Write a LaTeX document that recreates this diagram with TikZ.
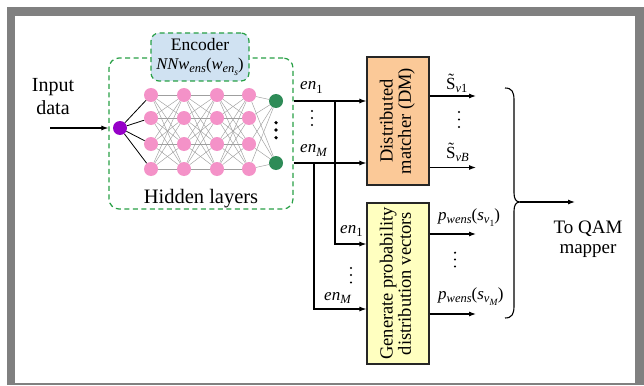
\documentclass[tikz,border=0pt]{standalone}
\usepackage{graphicx}
\usepackage{fontspec}
\setmainfont{Liberation Serif}
\usetikzlibrary{arrows.meta,calc}
\definecolor{frameg}{RGB}{128,128,128}
\definecolor{dgreen}{RGB}{40,160,70}
\definecolor{encblue}{RGB}{208,226,242}
\definecolor{pinkn}{RGB}{244,146,200}
\definecolor{purpn}{RGB}{150,0,200}
\definecolor{greenn}{RGB}{46,139,87}
\definecolor{dmorange}{RGB}{251,201,152}
\definecolor{gpyellow}{RGB}{255,255,192}
\newcommand{\sbs}[1]{\raisebox{-0.22em}{\fontsize{12.5}{13}\selectfont #1}}
\newcommand{\ssbs}[1]{\raisebox{-0.2em}{\fontsize{9.5}{10}\selectfont #1}}
\newcommand{\twolines}[2]{\rotatebox{90}{\begin{tabular}{@{}c@{}}#1\\#2\end{tabular}}}
\begin{document}
\begin{tikzpicture}[x=1pt,y=-1pt,
  neuron/.style={circle,inner sep=0pt,minimum size=14pt},
  nnedge/.style={gray!75,line width=0.45pt},
  inedge/.style={black,line width=0.8pt},
  conn/.style={line width=1.1pt,-{Latex[length=7pt,width=5pt]}},
  dashbox/.style={draw=dgreen,line width=1.2pt,dash pattern=on 5pt off 3.5pt},
  procbox/.style={draw=black!85,line width=1.2pt,inner sep=0pt,minimum width=62pt,
     font=\fontsize{18.5}{18}\selectfont},
  lbl/.style={inner sep=0pt,font=\fontsize{17}{19}\selectfont},
  bigtxt/.style={inner sep=0pt,align=center},
]
\useasboundingbox (0,0) rectangle (644,385);
% frame
\fill[frameg] (7,7) rectangle (644,385);
\fill[white] (15,16) rectangle (635,382.5);

% neural network box
\node[dashbox,rounded corners=10pt,minimum width=184pt,minimum height=151pt,inner sep=0pt] (nnbox) at (201,133.5) {};
\node[dashbox,fill=encblue,rounded corners=8pt,minimum width=98pt,minimum height=48pt,inner sep=0pt,align=center,font=\fontsize{17.5}{18.5}\selectfont] (enc) at (200,57)
  {Encoder\\{\fontsize{16.5}{18}\selectfont\textit{NNw}\sbs{\textit{ens}}(\textit{w}\sbs{\textit{en}\ssbs{\textit{s}}})}};

% neurons
\node[neuron,fill=purpn] (pin) at (120,128) {};
\foreach \c/\x in {1/151,2/184,3/217,4/249}
  \foreach \r/\y in {1/95,2/118,3/144,4/169}
    \node[neuron,fill=pinkn] (h\c\r) at (\x,\y) {};
\node[neuron,fill=greenn] (go1) at (276,101) {};
\node[neuron,fill=greenn] (go2) at (276,163) {};
\foreach \yy in {122.7,130,137.7} \fill (276,\yy) circle (1.8);

\foreach \r in {1,...,4} \draw[inedge] (pin) -- (h1\r);
\foreach \c/\n in {1/2,2/3,3/4}
  \foreach \a in {1,...,4}
    \foreach \b in {1,...,4}
      \draw[nnedge] (h\c\a) -- (h\n\b);
\foreach \a in {1,...,4} {
  \draw[nnedge] (h4\a) -- (go1);
  \draw[nnedge] (h4\a) -- (go2);
}
\node[bigtxt,anchor=base,font=\fontsize{20.5}{22}\selectfont] (hid) at (201,203) {Hidden layers};

% input
\node[bigtxt,font=\fontsize{20}{23}\selectfont] (inp) at (53,96.5) {Input\\data};
\coordinate (ia) at (50,128);
\draw[conn] (ia) -- (nnbox.west |- pin);

% processing boxes
\node[procbox,fill=dmorange,minimum height=128pt] (DM) at (398,121) {\twolines{Distributed}{matcher (DM)}};
\node[procbox,fill=gpyellow,minimum height=161pt] (GP) at (398,283.5) {\twolines{Generate probability}{distribution vectors}};

% encoder outputs
\draw[conn] (nnbox.east |- go1) -- (DM.west |- go1);
\draw[conn] (nnbox.east |- go2) -- (DM.west |- go2);
\coordinate (br1) at (335,101);
\coordinate (brM) at (314,163);
\coordinate (g1y) at (0,244);
\coordinate (gMy) at (0,309);
\draw[conn] (br1) |- (GP.west |- g1y);
\draw[conn] (brM) |- (GP.west |- gMy);

\node[lbl,anchor=base west] (l1) at (300,90) {\textit{en}\sbs{1}};
\node[lbl,anchor=base west] (lM) at (300,152.7) {\textit{en}\sbs{\textit{M}}};
\foreach \yy in {111,118,125} \fill (312,\yy) circle (1.2);
\node[lbl,anchor=base west] (l1b) at (340,233) {\textit{en}\sbs{1}};
\node[lbl,anchor=base west] (lMb) at (324,300) {\textit{en}\sbs{\textit{M}}};
\foreach \yy in {268,275,282.5} \fill (351,\yy) circle (1.2);

% DM outputs
\coordinate (o1) at (476,96);
\coordinate (o2) at (476,167.5);
\draw[conn] (DM.east |- o1) -- (o1);
\draw[conn] (DM.east |- o2) -- (o2);
\node[lbl,anchor=base west] (s1) at (446,89) {\~{S}\sbs{\textit{v}1}};
\node[lbl,anchor=base west] (sB) at (446,158) {\~{S}\sbs{\textit{vB}}};
\foreach \yy in {112,119.5,127} \fill (459,\yy) circle (1.2);

% GP outputs
\coordinate (p1) at (476,234);
\coordinate (p2) at (476,314);
\draw[conn] (GP.east |- p1) -- (p1);
\draw[conn] (GP.east |- p2) -- (p2);
\node[lbl,anchor=base west] (pp1) at (438,220) {\textit{p}\sbs{\textit{wens}}(\textit{s}\sbs{\textit{v}\ssbs{1}})};
\node[lbl,anchor=base west] (pp2) at (438,299) {\textit{p}\sbs{\textit{wens}}(\textit{s}\sbs{\textit{v}\ssbs{\textit{M}}})};
\foreach \yy in {252.7,259.5,266.5} \fill (455,\yy) circle (1.2);

% brace
\draw[line width=1.1pt] (505,88) .. controls (512,88) and (514,92) .. (514,100)
  -- (514,193) .. controls (514,199) and (516,202) .. (520,202)
  .. controls (516,202) and (514,205) .. (514,211)
  -- (514,306) .. controls (514,314) and (512,318) .. (505,318);
\coordinate (bt) at (520,202);
\coordinate (qa) at (575,202);
\draw[conn] (bt) -- (qa);
\node[bigtxt,font=\fontsize{19}{20}\selectfont] (qam) at (588,239) {To QAM\\mapper};
\end{tikzpicture}
\end{document}
